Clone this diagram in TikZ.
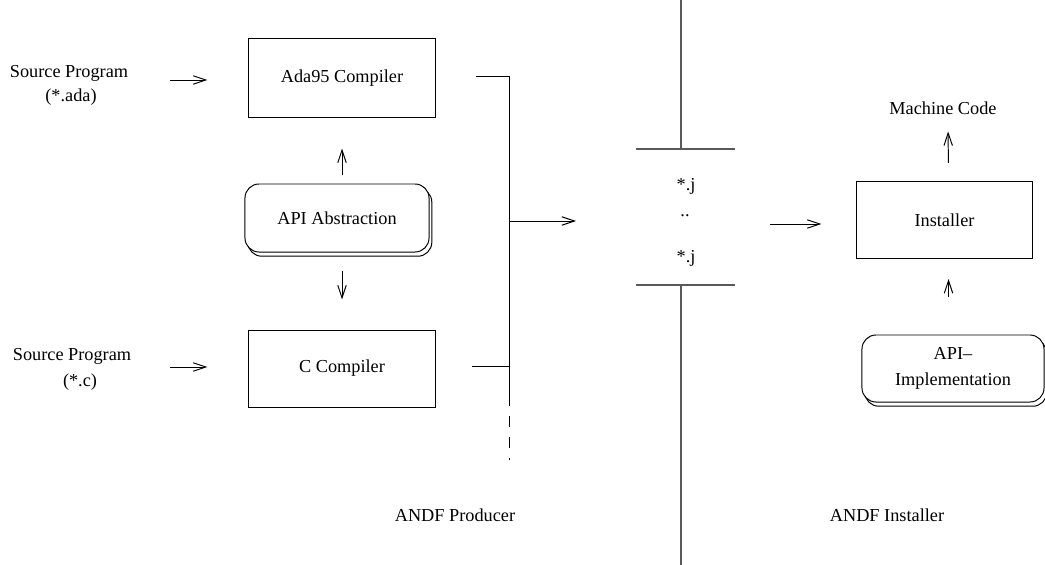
\documentclass[tikz,border=0pt]{standalone}
\usepackage{fontspec}
\setmainfont{Liberation Serif}
\usetikzlibrary{positioning,arrows.meta,shadows}

\begin{document}
\begin{tikzpicture}[x=0.025cm,y=-0.025cm,
    every node/.style={font=\fontsize{13}{15}\selectfont},
    box/.style={draw, line width=0.7pt, minimum width=4.65cm},
    softbox/.style={draw, line width=0.7pt, fill=white, rounded corners=10pt,
      copy shadow={shadow xshift=2pt, shadow yshift=-3pt}},
    arr/.style={line width=0.7pt, -{Straight Barb[length=9pt,width=6pt]}},
    pipe/.style={line width=0.8pt, black!65}]
  \useasboundingbox (0,0) rectangle (1045,565);

  % compilers on the producer side
  \node[box, minimum height=1.95cm] (ada) at (342,78) {Ada95 Compiler};
  \node[softbox, minimum width=4.6cm, minimum height=1.7cm] (api) at (337,218) {API Abstraction};
  \node[box, minimum height=1.925cm] (cc) at (342,368.5) {C Compiler};

  \node (srcada) at (69,73) {Source Program};
  \node (extada) at (71,97) {(*.ada)};
  \node (srcc) at (72,356) {Source Program};
  \node (extc) at (80,382) {(*.c)};

  \coordinate (inada) at (170,80);
  \coordinate (inc) at (170,367);
  \draw[arr, shorten >=1.025cm] (inada) -- (inada -| ada.west);
  \draw[arr, shorten >=1.025cm] (inc) -- (inc -| cc.west);
  \draw[arr, shorten <=0.2cm, shorten >=0.775cm] (api.north -| ada.south) -- (ada.south);
  \draw[arr, shorten <=0.45cm, shorten >=0.75cm] (api.south -| cc.north) -- (cc.north);

  % collecting bus
  \coordinate (adaout) at (476,76);
  \coordinate (cout) at (472,366);
  \coordinate (bustop) at (509,76);
  \coordinate (busmid) at (509,221);
  \coordinate (busend) at (509,395);
  \coordinate (busdash) at (509,460);
  \draw[line width=0.7pt] (adaout) -- (bustop) -- (busend);
  \draw[line width=0.7pt] (cout) -- (cout -| busend);
  \draw[line width=0.7pt, dash pattern=on 8pt off 7pt] (busend) -- (busdash);
  \coordinate (busout) at (576,221);
  \draw[arr] (busmid) -- (busout);

  % the interface in the middle
  \coordinate (ptop) at (681,0);
  \coordinate (pup) at (681,149);
  \coordinate (plow) at (681,285);
  \coordinate (pbot) at (681,565);
  \draw[pipe] (ptop) -- (pup);
  \draw[pipe] (636,149) -- (735,149);
  \draw[pipe] (636,285) -- (735,285);
  \draw[pipe] (plow) -- (pbot);
  \node (jone) at (686,186) {*.j};
  \node (jdots) at (685,216) {..};
  \node (jtwo) at (686,258) {*.j};

  % installer side
  \node[box, minimum width=4.375cm, minimum height=1.925cm] (inst) at (944.5,220) {Installer};
  \node (mcode) at (943,108) {Machine Code};
  \node[softbox, minimum width=4.55cm, minimum height=1.675cm, align=center] (impl) at (953,368.5) {API--\\[4pt]Implementation};
  \coordinate (toinst) at (770,224);
  \draw[arr, shorten >=0.875cm] (toinst) -- (toinst -| inst.west);
  \draw[arr, shorten <=0.45cm, shorten >=0.3cm] ([xshift=0.1cm]inst.north) -- ([xshift=0.125cm]mcode.south);
  \draw[arr, shorten <=0.925cm, shorten >=0.5cm] ([xshift=0.1cm]inst.south |- impl.north) -- ([xshift=0.1cm]inst.south);

  \node (prod) at (455,515) {ANDF Producer};
  \node (instl) at (887,515) {ANDF Installer};
\end{tikzpicture}
\end{document}
